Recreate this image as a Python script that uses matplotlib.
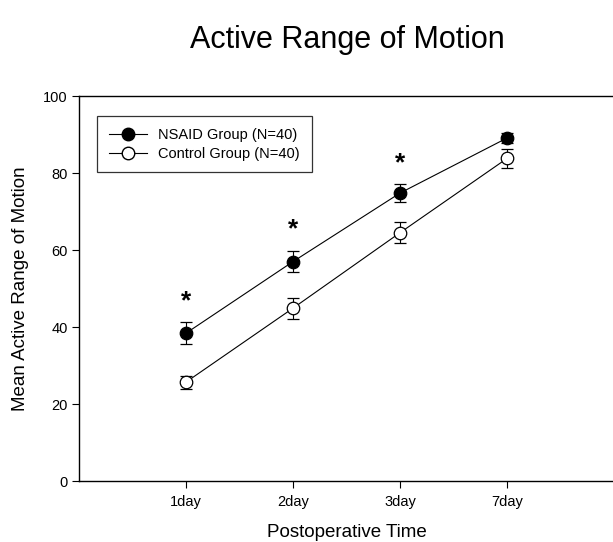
import matplotlib
matplotlib.use("Agg")
import matplotlib.pyplot as plt
from matplotlib.lines import Line2D

plt.rcParams["font.family"] = ["Liberation Sans", "DejaVu Sans"]

# data
days = ["1day", "2day", "3day", "7day"]
nsaid_mean = [38.4, 57.0, 74.8, 89.1]
nsaid_err = [2.8, 2.8, 2.4, 1.2]
control_mean = [25.7, 44.9, 64.5, 83.8]
control_err = [1.7, 2.7, 2.7, 2.4]
star_y = [46.8, 65.3, 82.6]  # significance markers over first three points
labels = ["NSAID Group (N=40)", "Control Group (N=40)"]

x = list(range(1, len(days) + 1))

fig = plt.figure(figsize=(6.13, 5.42), dpi=100)
ax = fig.add_axes([0.1289, 0.1125, 0.8728, 0.7103])

common = dict(color="black", lw=0.8, capsize=4.2, elinewidth=0.8,
              capthick=0.8, markersize=9, markeredgewidth=0.9, zorder=3)
ax.errorbar(x, nsaid_mean, yerr=nsaid_err, fmt="-o", mfc="black",
            mec="black", **common)
ax.errorbar(x, control_mean, yerr=control_err, fmt="-o", mfc="white",
            mec="black", **common)

for xi, yi in zip(x, star_y):
    ax.text(xi, yi, "*", ha="center", va="center", fontsize=19,
            fontweight="bold")

ax.set_xlim(0, 5)
ax.set_ylim(0, 100)
ax.set_xticks(x)
ax.set_xticklabels(days)
ax.set_yticks(range(0, 101, 20))
ax.tick_params(direction="out", length=5, width=0.8, labelsize=10.5,
               pad=3)
ax.tick_params(axis="x", pad=5)
for s in ax.spines.values():
    s.set_linewidth(1.0)
ax.spines["right"].set_visible(False)

ax.set_xlabel("Postoperative Time", fontsize=13.5, labelpad=11)
ax.set_ylabel("Mean Active Range of Motion", fontsize=13.5, labelpad=10)
fig.text(0.566, 0.926, "Active Range of Motion", ha="center",
         va="center", fontsize=22)

# legend shows line + marker only (no error caps)
handles = [
    Line2D([], [], color="black", lw=0.8, marker="o", markersize=9,
           mfc="black", mec="black"),
    Line2D([], [], color="black", lw=0.8, marker="o", markersize=9,
           mfc="white", mec="black"),
]
leg = ax.legend(handles, labels, loc="upper left",
                bbox_to_anchor=(0.034, 0.948), fontsize=10.5,
                frameon=True, fancybox=False, handlelength=2.6,
                borderpad=0.8, labelspacing=0.35, borderaxespad=0)
leg.get_frame().set_edgecolor("black")
leg.get_frame().set_linewidth(0.9)

fig.savefig("out.png", dpi=100)
